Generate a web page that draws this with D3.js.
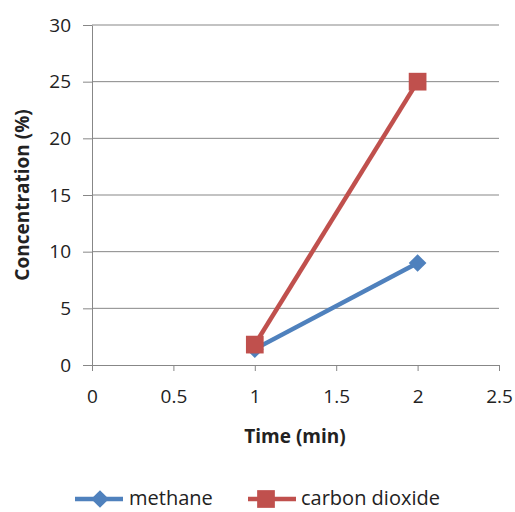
<!DOCTYPE html>
<html>
<head>
<meta charset="utf-8">
<script src="https://cdn.jsdelivr.net/npm/d3@7"></script>
<style>
  body { margin: 0; background: #fff; }
  svg { display: block; }
  text { font-family: "Open Sans", "Liberation Sans", sans-serif; fill: #222; }
</style>
</head>
<body>
<div id="chart-div"></div>
<script>
// Script globals
const CHART_WIDTH = 515
const CHART_HEIGHT = 512

// data
const seriesNames = ["methane", "carbon dioxide"]
const seriesColors = ["#4F81BD", "#C0504D"]
const timeValues = [1, 2]
const methaneValues = [1.4, 9]
const co2Values = [1.8, 25]
const xTicks = [0, 0.5, 1, 1.5, 2, 2.5]
const yTicks = [0, 5, 10, 15, 20, 25, 30]

const marginTop = 25
const marginRight = 16
const marginBottom = 147
const marginLeft = 92

const svg = d3.select("#chart-div").append("svg")
  .attr("width", CHART_WIDTH)
  .attr("height", CHART_HEIGHT)

const x = d3.scaleLinear()
  .domain([0, 2.5])
  .range([marginLeft, CHART_WIDTH - marginRight])

const y = d3.scaleLinear()
  .domain([0, 30])
  .range([CHART_HEIGHT - marginBottom, marginTop])

// gridlines
svg.append("g")
  .selectAll("line")
  .data(yTicks.filter(t => t > 0))
  .join("line")
    .attr("x1", x(0))
    .attr("x2", x(2.5))
    .attr("y1", d => y(d))
    .attr("y2", d => y(d))
    .attr("stroke", "#878787")
    .attr("stroke-width", 1)

// y axis
const yAxis = svg.append("g")
  .attr("transform", `translate(${marginLeft},0)`)
  .call(d3.axisLeft(y).tickValues(yTicks).tickSize(9).tickPadding(12).tickSizeOuter(0))
yAxis.select(".domain").attr("stroke", "#878787")
yAxis.selectAll(".tick line").attr("stroke", "#878787")
yAxis.selectAll(".tick text").style("font-size", "19px").attr("fill", "#222")

// x axis
const xAxis = svg.append("g")
  .attr("transform", `translate(0,${y(0)})`)
  .call(d3.axisBottom(x).tickValues(xTicks).tickFormat(d3.format("~g"))
    .tickSize(6).tickPadding(19).tickSizeOuter(0))
xAxis.select(".domain").attr("stroke", "#878787")
xAxis.selectAll(".tick line").attr("stroke", "#878787")
xAxis.selectAll(".tick text").style("font-size", "19px").attr("fill", "#222")

// axis titles
svg.append("text")
  .attr("x", 295)
  .attr("y", 443)
  .attr("text-anchor", "middle")
  .style("font-size", "19px")
  .style("font-weight", "bold")
  .text("Time (min)")

svg.append("text")
  .attr("transform", `translate(29,${(y(0) + y(30)) / 2}) rotate(-90)`)
  .attr("text-anchor", "middle")
  .style("font-size", "19px")
  .style("font-weight", "bold")
  .text("Concentration (%)")

const series = [methaneValues, co2Values].map((vals, i) => ({
  name: seriesNames[i],
  color: seriesColors[i],
  points: vals.map((v, j) => ({ t: timeValues[j], v: v }))
}))

const line = d3.line().x(d => x(d.t)).y(d => y(d.v))

const diamond = d3.symbol().type(d3.symbolDiamond2).size(200)
const square = d3.symbol().type(d3.symbolSquare2).size(400)

for (let [i, s] of series.entries()) {
  svg.append("path")
    .datum(s.points)
    .attr("d", line)
    .attr("fill", "none")
    .attr("stroke", s.color)
    .attr("stroke-width", 4.5)

  svg.append("g")
    .selectAll("path")
    .data(s.points)
    .join("path")
      .attr("transform", d => `translate(${x(d.t)},${y(d.v)})`)
      .attr("d", i === 0 ? diamond : square)
      .attr("fill", s.color)
}

// legend at the bottom edge
const legendY = 499
const legendX = [75, 248]
series.forEach((s, i) => {
  const g = svg.append("g").attr("transform", `translate(${legendX[i]},${legendY})`)
  g.append("line")
    .attr("x1", 0).attr("x2", 48)
    .attr("stroke", s.color).attr("stroke-width", 4.5)
  g.append("path")
    .attr("transform", `translate(${i === 0 ? 25 : 18},0)`)
    .attr("d", i === 0 ? diamond : square)
    .attr("fill", s.color)
  g.append("text")
    .attr("x", i === 0 ? 54 : 53)
    .attr("y", 6)
    .style("font-size", "20px")
    .text(s.name)
})
</script>
</body>
</html>
